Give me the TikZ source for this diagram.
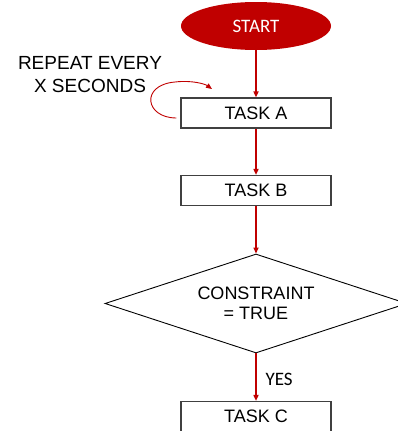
\documentclass[tikz,border=0pt]{standalone}
\usepackage{fontspec}
\setmainfont{Liberation Sans}
\newfontfamily\carlito{Carlito}
\usetikzlibrary{shapes.geometric,arrows.meta}
\definecolor{dred}{HTML}{C00000}
\definecolor{bord}{HTML}{404040}
\tikzset{
  taskbox/.style={draw=bord, line width=1.1pt, rectangle, minimum width=150pt, minimum height=30pt, inner sep=0pt, font=\fontsize{18}{21}\selectfont},
  flow/.style={draw=dred, line width=1.8pt, -{Triangle[length=6pt,width=5pt]}},
  loopar/.style={draw=dred, line width=0.9pt, -{Triangle[length=6pt,width=5pt]}},
}
\begin{document}
\begin{tikzpicture}[x=1pt,y=-1pt]
\useasboundingbox (0,0) rectangle (398,431);
\node[ellipse, fill=dred, minimum width=150pt, minimum height=48pt, inner sep=0pt, text=white, font=\carlito\fontsize{19}{22}\selectfont] (start) at (256,26) {START};
\node[taskbox] (taska) at (256,113) {TASK A};
\node[taskbox] (taskb) at (256,190.5) {TASK B};
\node[diamond, draw=black, line width=0.9pt, aspect=3.05, minimum width=302pt, minimum height=99pt, inner sep=0pt, align=center, font=\fontsize{18}{20.5}\selectfont] (cons) at (256,303.5) {CONSTRAINT\\= TRUE};
\node[taskbox] (taskc) at (256,416.5) {TASK C};
\node[font=\carlito\fontsize{19}{22}\selectfont, anchor=west] (yes) at (262,379) {YES};
\node[align=center, font=\fontsize{19}{23}\selectfont] (rep) at (90,74.5) {REPEAT EVERY\\X SECONDS};
\draw[flow] (start) -- (taska);
\draw[flow] (taska) -- (taskb);
\draw[flow] (taskb) -- (cons);
\draw[flow] (cons) -- (taskc);
\coordinate (ls) at ([xshift=-4pt,yshift=-5pt]taska.west);
\coordinate (le) at (212,89);
\draw[loopar] (ls) .. controls (145,118) and (140,85) .. (175,82) .. controls (192,80) and (205,84) .. (le);
\end{tikzpicture}
\end{document}
